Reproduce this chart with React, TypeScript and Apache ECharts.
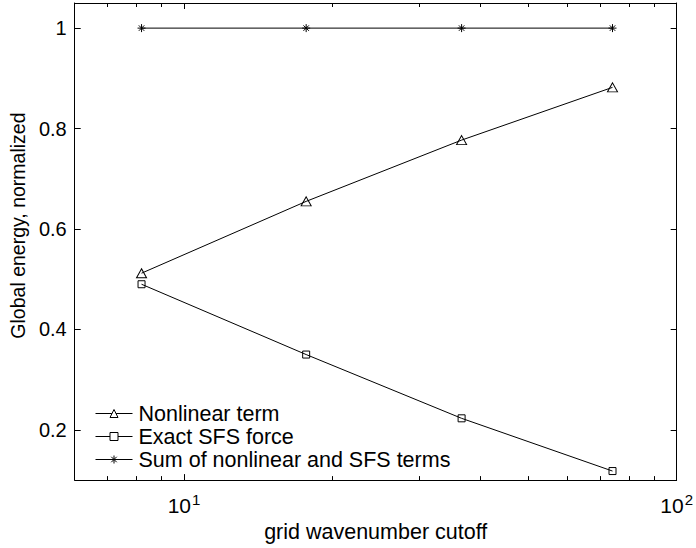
import React, { useEffect, useRef } from "react";
import * as echarts from "echarts";

const xCutoff = [8.2, 17.7, 36.6, 74.1];
const nonlinearTerm = [0.512, 0.655, 0.777, 0.882];
const exactSFS = [0.49, 0.35, 0.223, 0.118];
const sumTerms = [1, 1, 1, 1];

const seriesNames = ["Nonlinear term", "Exact SFS force", "Sum of nonlinear and SFS terms"];
const yTicks = [0.2, 0.4, 0.6, 0.8, 1];
const xMajorTicks = [10, 100];
const xMinorTicks = [6, 7, 8, 9, 20, 30, 40, 50, 60, 70, 80, 90];

const FONT = "'Liberation Sans', Arial, Helvetica, sans-serif";
const ASTERISK = "path://M5,0L5,10M0,5L10,5M1.6,1.6L8.4,8.4M8.4,1.6L1.6,8.4";

export default function App() {
  const ref = useRef<HTMLDivElement>(null);
  useEffect(() => {
    if (!ref.current) return;
    const chart = echarts.init(ref.current, null, { renderer: "svg" });
    const pairs = (ys: number[]) => xCutoff.map((x, i) => [x, ys[i]]);
    const baseLine = { color: "#000", width: 1 };
    const xBase = {
      type: "log" as const,
      logBase: 10,
      min: 6,
      max: 100,
      gridIndex: 0,
      splitLine: { show: false },
      axisLine: { show: true, lineStyle: { color: "#000", width: 1 } },
    };
    const option: any = {
      animation: false,
      backgroundColor: "#fff",
      textStyle: { fontFamily: FONT },
      grid: { left: 71, top: 3, right: 17, bottom: 65, containLabel: false },
      xAxis: [
        {
          ...xBase,
          position: "bottom",
          name: "grid wavenumber cutoff",
          nameLocation: "middle",
          nameGap: 39,
          nameTextStyle: { color: "#000", fontSize: 21.5, fontFamily: FONT },
          axisTick: { show: true, inside: true, length: 6, customValues: xMajorTicks, lineStyle: { color: "#000" } },
          axisLabel: {
            show: true,
            customValues: xMajorTicks,
            margin: 12,
            formatter: (v: number) => `{b|10}{s|${Math.round(Math.log10(v))}}`,
            rich: {
              b: { fontSize: 21, color: "#000", fontFamily: FONT },
              s: { fontSize: 15, color: "#000", fontFamily: FONT, padding: [0, 0, 12, 1] },
            },
          },
        },
        {
          ...xBase,
          position: "bottom",
          axisLine: { show: false },
          axisTick: { show: true, inside: true, length: 4, customValues: xMinorTicks, lineStyle: { color: "#000" } },
          axisLabel: { show: false },
        },
        {
          ...xBase,
          position: "top",
          axisTick: { show: true, inside: true, length: 6, customValues: xMajorTicks, lineStyle: { color: "#000" } },
          axisLabel: { show: false },
        },
        {
          ...xBase,
          position: "top",
          axisLine: { show: false },
          axisTick: { show: true, inside: true, length: 4, customValues: xMinorTicks, lineStyle: { color: "#000" } },
          axisLabel: { show: false },
        },
      ],
      yAxis: [
        {
          type: "value",
          min: 0.1,
          max: 1.05,
          position: "left",
          splitLine: { show: false },
          axisLine: { show: true, lineStyle: { color: "#000", width: 1 } },
          axisTick: { show: true, inside: true, length: 6, customValues: yTicks, lineStyle: { color: "#000" } },
          axisLabel: {
            show: true,
            customValues: yTicks,
            margin: 8,
            color: "#000",
            fontSize: 20,
            fontFamily: FONT,
            formatter: (v: number) => String(Math.round(v * 10) / 10),
          },
          name: "Global energy, normalized",
          nameLocation: "middle",
          nameGap: 37,
          nameTextStyle: { color: "#000", fontSize: 19.5, fontFamily: FONT, padding: [0, 0, 0, 32] },
        },
        {
          type: "value",
          min: 0.1,
          max: 1.05,
          position: "right",
          splitLine: { show: false },
          axisLine: { show: true, lineStyle: { color: "#000", width: 1 } },
          axisTick: { show: true, inside: true, length: 6, customValues: yTicks, lineStyle: { color: "#000" } },
          axisLabel: { show: false },
        },
      ],
      legend: {
        show: true,
        orient: "vertical",
        left: 90,
        top: 397,
        itemWidth: 37,
        itemHeight: 10,
        itemGap: 0,
        data: seriesNames,
        itemStyle: { color: "#fff", borderColor: "#000", borderWidth: 1 },
        lineStyle: { color: "#000", width: 1 },
        textStyle: { color: "#000", fontSize: 21.5, fontFamily: FONT, lineHeight: 23, padding: [0, 0, 0, 1] },
      },
      series: [
        {
          name: seriesNames[0],
          type: "line",
          xAxisIndex: 0,
          yAxisIndex: 0,
          data: pairs(nonlinearTerm),
          symbol: "triangle",
          symbolSize: [10, 9],
          showAllSymbol: true,
          lineStyle: baseLine,
          itemStyle: { color: "none", borderColor: "#000", borderWidth: 1 },
          emphasis: { disabled: true },
        },
        {
          name: seriesNames[1],
          type: "line",
          xAxisIndex: 0,
          yAxisIndex: 0,
          data: pairs(exactSFS),
          symbol: "rect",
          symbolSize: 7,
          lineStyle: baseLine,
          itemStyle: { color: "none", borderColor: "#000", borderWidth: 1 },
          emphasis: { disabled: true },
        },
        {
          name: seriesNames[2],
          type: "line",
          xAxisIndex: 0,
          yAxisIndex: 0,
          data: pairs(sumTerms),
          symbol: ASTERISK,
          symbolSize: 8,
          lineStyle: baseLine,
          itemStyle: { color: "none", borderColor: "#000", borderWidth: 1 },
          emphasis: { disabled: true },
        },
      ],
    };
    chart.setOption(option);
    return () => chart.dispose();
  }, []);
  return <div ref={ref} style={{ width: 696, height: 548, position: "absolute", left: 0, top: 0 }} />;
}
